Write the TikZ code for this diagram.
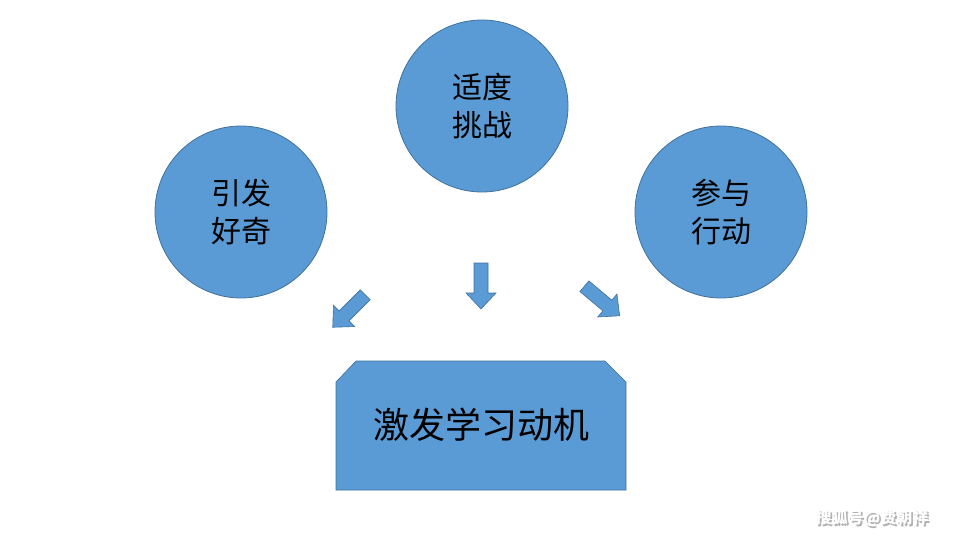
\documentclass[tikz,border=0pt]{standalone}
\usepackage{fontspec}
\setmainfont{Noto Sans CJK SC}
\definecolor{fillb}{HTML}{5B9BD5}
\definecolor{lineb}{HTML}{41719C}
\begin{document}
\begin{tikzpicture}[x=1pt,y=-1pt,
  bub/.style={circle,fill=fillb,draw=lineb,line width=0.8pt,minimum size=172pt,inner sep=0pt,align=center,font=\fontsize{30}{38}\selectfont},
  barrow/.style={fill=fillb,draw=lineb,line width=0.6pt}]
\useasboundingbox (0,0) rectangle (960,540);
\node[bub] (c1) at (241,212) {引发\\好奇};
\node[bub] (c2) at (482,106) {适度\\挑战};
\node[bub] (c3) at (721,212) {参与\\行动};
\draw[barrow] (356,361) -- (605,361) -- (626,382) -- (626,490) -- (336,490) -- (336,382) -- cycle;
\node[font=\fontsize{36}{40}\selectfont] (box) at (481,425) {激发学习动机};
\foreach \x/\y/\a [count=\i] in {349/311/135, 481/286/90, 602/301/40}{
  \begin{scope}[shift={(\x,\y)},rotate=-\a]
    \draw[barrow] (-23,-7) -- (7,-7) -- (7,-15) -- (23,0) -- (7,15) -- (7,7) -- (-23,7) -- cycle;
  \end{scope}
}
\node[font=\fontsize{16}{18}\selectfont\bfseries,text=gray!60] (wm0) at (873.8,519.8) {搜狐号@费朝祥};
\node[font=\fontsize{16}{18}\selectfont\bfseries,text=white] (wm) at (872,518) {搜狐号@费朝祥};
\end{tikzpicture}
\end{document}
